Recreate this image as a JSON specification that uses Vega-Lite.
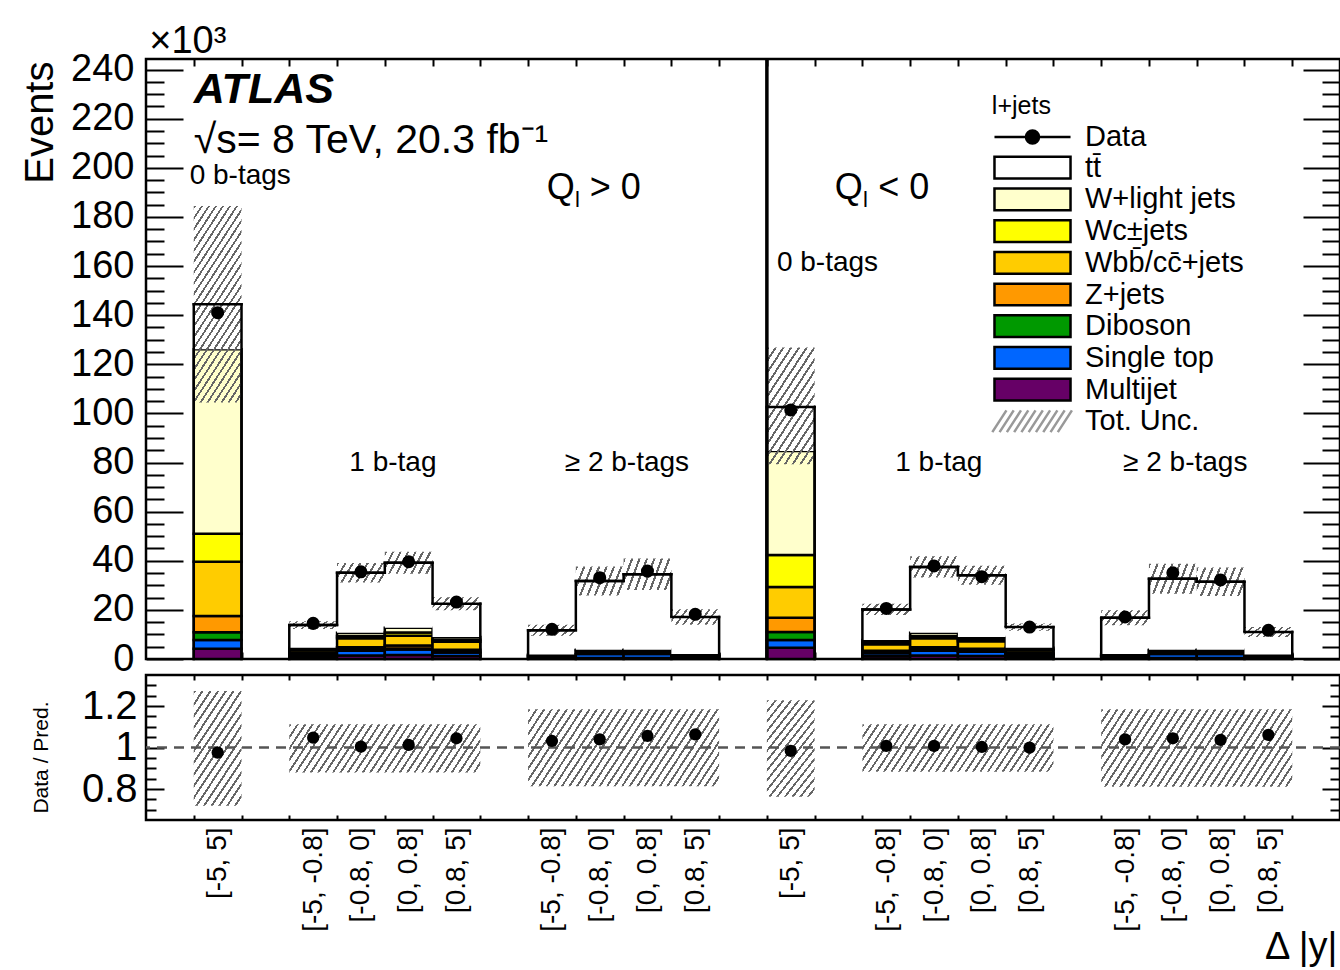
{
"$schema": "https://vega.github.io/schema/vega-lite/v6.json",
"background": "white",
"padding": {"left": 18, "top": 21, "right": 0, "bottom": 0},
"config": {
  "font": "Liberation Sans",
  "view": {"stroke": "black", "strokeWidth": 2.5},
  "axis": {"labelColor": "black", "titleColor": "black", "tickColor": "black", "domain": false, "grid": false, "labelFont": "Liberation Sans", "titleFont": "Liberation Sans", "titleFontWeight": "normal", "tickWidth": 2}
},
"datasets": {
  "bins": [
{"lo":1,"hi":2,"c":1.5,"grp":"Q+0b","nb":0,"pos":"only","dat":141.0,"r":0.976,"ul":104.4,"uh":184.4,"rl":0.72,"rh":1.273,"mj":4.2,"st":3.5,"vv":3.2,"z":6.6,"wbb":22.1,"wc":11.4,"wl":75.1,"tt":18.3},
{"lo":3,"hi":4,"c":3.5,"grp":"Q+1b","nb":1,"pos":"first","dat":14.5,"r":1.048,"ul":12.2,"uh":15.4,"rl":0.88,"rh":1.1125,"mj":0.8,"st":0.9,"vv":0.2,"z":0.4,"wbb":1.2,"wc":0.4,"wl":0.7,"tt":9.2},
{"lo":4,"hi":5,"c":4.5,"grp":"Q+1b","nb":1,"pos":"mid","dat":35.5,"r":1.005,"ul":31.1,"uh":39.1,"rl":0.88,"rh":1.1125,"mj":1.4,"st":2.0,"vv":0.4,"z":1.0,"wbb":3.6,"wc":1.0,"wl":1.3,"tt":24.4},
{"lo":5,"hi":6,"c":5.5,"grp":"Q+1b","nb":1,"pos":"mid","dat":39.6,"r":1.013,"ul":34.7,"uh":43.7,"rl":0.88,"rh":1.1125,"mj":1.6,"st":2.3,"vv":0.4,"z":1.2,"wbb":4.0,"wc":1.3,"wl":1.9,"tt":26.5},
{"lo":6,"hi":7,"c":6.5,"grp":"Q+1b","nb":1,"pos":"last","dat":23.2,"r":1.045,"ul":19.9,"uh":25.1,"rl":0.88,"rh":1.1125,"mj":1.2,"st":1.4,"vv":0.3,"z":0.9,"wbb":3.2,"wc":0.8,"wl":1.2,"tt":13.5},
{"lo":8,"hi":9,"c":8.5,"grp":"Q+2b","nb":2,"pos":"first","dat":12.1,"r":1.032,"ul":9.5,"uh":13.9,"rl":0.814,"rh":1.185,"mj":0.2,"st":0.7,"vv":0.05,"z":0.1,"wbb":0.5,"wc":0.1,"wl":0.15,"tt":9.9},
{"lo":9,"hi":10,"c":9.5,"grp":"Q+2b","nb":2,"pos":"mid","dat":33.1,"r":1.04,"ul":25.9,"uh":37.7,"rl":0.814,"rh":1.185,"mj":0.4,"st":1.6,"vv":0.1,"z":0.3,"wbb":1.0,"wc":0.2,"wl":0.2,"tt":28.0},
{"lo":10,"hi":11,"c":10.5,"grp":"Q+2b","nb":2,"pos":"mid","dat":35.8,"r":1.056,"ul":28.1,"uh":40.9,"rl":0.814,"rh":1.185,"mj":0.4,"st":1.6,"vv":0.1,"z":0.3,"wbb":1.0,"wc":0.2,"wl":0.2,"tt":30.7},
{"lo":11,"hi":12,"c":11.5,"grp":"Q+2b","nb":2,"pos":"last","dat":18.2,"r":1.064,"ul":13.9,"uh":20.3,"rl":0.814,"rh":1.185,"mj":0.2,"st":0.8,"vv":0.1,"z":0.1,"wbb":0.5,"wc":0.1,"wl":0.2,"tt":15.1},
{"lo":13,"hi":14,"c":13.5,"grp":"Q-0b","nb":0,"pos":"only","dat":101.4,"r":0.984,"ul":79.3,"uh":126.8,"rl":0.763,"rh":1.228,"mj":4.6,"st":3.1,"vv":3.3,"z":5.8,"wbb":12.5,"wc":13.0,"wl":42.4,"tt":17.9},
{"lo":15,"hi":16,"c":15.5,"grp":"Q-1b","nb":1,"pos":"first","dat":20.6,"r":1.008,"ul":17.9,"uh":22.5,"rl":0.883,"rh":1.1125,"mj":1.1,"st":1.2,"vv":0.3,"z":0.8,"wbb":2.6,"wc":0.7,"wl":1.0,"tt":12.5},
{"lo":16,"hi":17,"c":16.5,"grp":"Q-1b","nb":1,"pos":"mid","dat":37.9,"r":1.008,"ul":33.2,"uh":41.8,"rl":0.883,"rh":1.1125,"mj":1.4,"st":2.0,"vv":0.4,"z":1.0,"wbb":3.6,"wc":1.0,"wl":1.3,"tt":26.8},
{"lo":17,"hi":18,"c":17.5,"grp":"Q-1b","nb":1,"pos":"mid","dat":33.5,"r":1.003,"ul":30.2,"uh":38.0,"rl":0.883,"rh":1.1125,"mj":1.2,"st":1.8,"vv":0.3,"z":0.9,"wbb":3.0,"wc":0.8,"wl":1.0,"tt":25.1},
{"lo":18,"hi":19,"c":18.5,"grp":"Q-1b","nb":1,"pos":"last","dat":13.0,"r":1.0,"ul":11.5,"uh":14.5,"rl":0.883,"rh":1.1125,"mj":0.8,"st":0.9,"vv":0.2,"z":0.4,"wbb":1.2,"wc":0.4,"wl":0.7,"tt":8.4},
{"lo":20,"hi":21,"c":20.5,"grp":"Q-2b","nb":2,"pos":"first","dat":17.1,"r":1.04,"ul":13.7,"uh":19.9,"rl":0.811,"rh":1.185,"mj":0.2,"st":0.8,"vv":0.1,"z":0.1,"wbb":0.5,"wc":0.1,"wl":0.2,"tt":14.8},
{"lo":21,"hi":22,"c":21.5,"grp":"Q-2b","nb":2,"pos":"mid","dat":35.1,"r":1.045,"ul":26.6,"uh":38.8,"rl":0.811,"rh":1.185,"mj":0.4,"st":1.6,"vv":0.1,"z":0.3,"wbb":1.0,"wc":0.2,"wl":0.2,"tt":28.9},
{"lo":22,"hi":23,"c":22.5,"grp":"Q-2b","nb":2,"pos":"mid","dat":32.2,"r":1.037,"ul":25.7,"uh":37.3,"rl":0.811,"rh":1.185,"mj":0.4,"st":1.6,"vv":0.1,"z":0.3,"wbb":1.0,"wc":0.2,"wl":0.2,"tt":27.7},
{"lo":23,"hi":24,"c":23.5,"grp":"Q-2b","nb":2,"pos":"last","dat":11.7,"r":1.061,"ul":9.0,"uh":13.0,"rl":0.811,"rh":1.185,"mj":0.2,"st":0.7,"vv":0.05,"z":0.1,"wbb":0.5,"wc":0.1,"wl":0.15,"tt":9.2}
  ],
  "procs": [
{"key":"mj","name":"Multijet"},{"key":"st","name":"Single top"},{"key":"vv","name":"Diboson"},{"key":"z","name":"Z+jets"},
{"key":"wbb","name":"Wbb\u0304/cc\u0304+jets"},{"key":"wc","name":"Wc\u00b1jets"},{"key":"wl","name":"W+light jets"},{"key":"tt","name":"tt\u0304"}
  ]
},
"resolve": {"scale": {"x": "independent", "y": "independent"}},
"spacing": 16,
"bounds": "flush",
"vconcat": [
{
  "width": 1194, "height": 600,
  "data": {"name": "bins"},
  "resolve": {"axis": {"x": "independent", "y": "independent"}},
  "layer": [
    {
      "transform": [
        {"fold": ["mj","st","vv","z","wbb","wc","wl","tt"], "as": ["key","ev"]},
        {"lookup": "key", "from": {"data": {"name": "procs"}, "key": "key", "fields": ["name"]}},
        {"window": [{"op": "row_number", "as": "k"}], "groupby": ["lo"]},
        {"stack": "ev", "groupby": ["lo"], "sort": [{"field": "k", "order": "ascending"}], "as": ["y0","y1"]}
      ],
      "mark": {"type": "rect", "stroke": "black"},
      "encoding": {
        "x": {"field": "lo", "type": "quantitative", "scale": {"domain": [0, 25], "nice": false, "zero": false},
              "axis": {"orient": "bottom", "values": [1,2,3,4,5,6,7,8,9,10,11,12,13,14,15,16,17,18,19,20,21,22,23,24], "labels": false, "tickSize": 7, "offset": -7, "title": null}},
        "x2": {"field": "hi"},
        "y": {"field": "y0", "type": "quantitative", "scale": {"domain": [0, 244.3], "nice": false, "zero": false},
              "axis": {"orient": "left", "values": [0,20,40,60,80,100,120,140,160,180,200,220,240], "ticks": false, "labelFontSize": 38, "labelPadding": 12, "labelFlush": false, "labelOverlap": false,
                       "title": "Events", "titleFontSize": 40, "titleAngle": -90, "titleAlign": "right", "titleBaseline": "alphabetic", "titleX": -94, "titleY": 2}},
        "y2": {"field": "y1"},
        "fill": {"field": "name", "type": "nominal",
          "scale": {"domain": ["Data", "tt\u0304", "W+light jets", "Wc\u00b1jets", "Wbb\u0304/cc\u0304+jets", "Z+jets", "Diboson", "Single top", "Multijet", "Tot. Unc."],
                    "range": ["black", "white", "#ffffcc", "#ffff00", "#ffcc00", "#ff9900", "#009900", "#0066ff", "#660066", "#ffffff"]},
          "legend": {
            "title": null, "orient": "none", "legendX": 872, "legendY": 63.5, "padding": 0,
            "labelFont": "Liberation Sans", "labelFontSize": 29, "labelColor": "black", "labelOffset": 38, "labelLimit": 400,
            "symbolType": "M-3.5,-1H3.5V1H-3.5Z", "symbolSize": 472, "symbolStrokeColor": "black", "symbolStrokeWidth": 2.5, "symbolOpacity": 1,
            "rowPadding": -1.3,
            "encode": {"symbols": {"update": {
              "shape": [{"test": "datum.value === 'Data'", "value": "M-3.5,0H3.5M0.6,0A0.6,0.6,0,1,1,-0.6,0A0.6,0.6,0,1,1,0.6,0Z"},
                        {"test": "datum.value === 'Tot. Unc.'", "value": "M-3.7,1L-2.4,-1M-3.03,1L-1.73,-1M-2.36,1L-1.06,-1M-1.69,1L-0.39,-1M-1.02,1L0.28,-1M-0.35,1L0.95,-1M0.32,1L1.62,-1M0.99,1L2.29,-1M1.66,1L2.96,-1M2.33,1L3.63,-1"},
                        {"value": "M-3.5,-1H3.5V1H-3.5Z"}],
              "stroke": [{"test": "datum.value === 'Tot. Unc.'", "value": "#999"}, {"value": "black"}]
            }}}
          }},
        "strokeWidth": {"condition": {"test": "datum.key === 'tt'", "value": 0}, "value": 2.5}
      }
    },
    {
      "transform": [{"filter": "datum.lo === 1"}],
      "mark": {"type": "rect", "color": {"gradient": "linear", "x1": 0, "y1": 0, "x2": 0.4508, "y2": 1.2054, "stops": [
{"offset":0,"color":"#666"},{"offset":0.012,"color":"#666"},{"offset":0.012,"color":"#0000"},{"offset":0.04,"color":"#0000"},
{"offset":0.04,"color":"#666"},{"offset":0.052,"color":"#666"},{"offset":0.052,"color":"#0000"},{"offset":0.08,"color":"#0000"},
{"offset":0.08,"color":"#666"},{"offset":0.092,"color":"#666"},{"offset":0.092,"color":"#0000"},{"offset":0.12,"color":"#0000"},
{"offset":0.12,"color":"#666"},{"offset":0.132,"color":"#666"},{"offset":0.132,"color":"#0000"},{"offset":0.16,"color":"#0000"},
{"offset":0.16,"color":"#666"},{"offset":0.172,"color":"#666"},{"offset":0.172,"color":"#0000"},{"offset":0.2,"color":"#0000"},
{"offset":0.2,"color":"#666"},{"offset":0.212,"color":"#666"},{"offset":0.212,"color":"#0000"},{"offset":0.24,"color":"#0000"},
{"offset":0.24,"color":"#666"},{"offset":0.252,"color":"#666"},{"offset":0.252,"color":"#0000"},{"offset":0.28,"color":"#0000"},
{"offset":0.28,"color":"#666"},{"offset":0.292,"color":"#666"},{"offset":0.292,"color":"#0000"},{"offset":0.32,"color":"#0000"},
{"offset":0.32,"color":"#666"},{"offset":0.332,"color":"#666"},{"offset":0.332,"color":"#0000"},{"offset":0.36,"color":"#0000"},
{"offset":0.36,"color":"#666"},{"offset":0.372,"color":"#666"},{"offset":0.372,"color":"#0000"},{"offset":0.4,"color":"#0000"},
{"offset":0.4,"color":"#666"},{"offset":0.412,"color":"#666"},{"offset":0.412,"color":"#0000"},{"offset":0.44,"color":"#0000"},
{"offset":0.44,"color":"#666"},{"offset":0.452,"color":"#666"},{"offset":0.452,"color":"#0000"},{"offset":0.48,"color":"#0000"},
{"offset":0.48,"color":"#666"},{"offset":0.492,"color":"#666"},{"offset":0.492,"color":"#0000"},{"offset":0.52,"color":"#0000"},
{"offset":0.52,"color":"#666"},{"offset":0.532,"color":"#666"},{"offset":0.532,"color":"#0000"},{"offset":0.56,"color":"#0000"},
{"offset":0.56,"color":"#666"},{"offset":0.572,"color":"#666"},{"offset":0.572,"color":"#0000"},{"offset":0.6,"color":"#0000"},
{"offset":0.6,"color":"#666"},{"offset":0.612,"color":"#666"},{"offset":0.612,"color":"#0000"},{"offset":0.64,"color":"#0000"},
{"offset":0.64,"color":"#666"},{"offset":0.652,"color":"#666"},{"offset":0.652,"color":"#0000"},{"offset":0.68,"color":"#0000"},
{"offset":0.68,"color":"#666"},{"offset":0.692,"color":"#666"},{"offset":0.692,"color":"#0000"},{"offset":0.72,"color":"#0000"},
{"offset":0.72,"color":"#666"},{"offset":0.732,"color":"#666"},{"offset":0.732,"color":"#0000"},{"offset":0.76,"color":"#0000"},
{"offset":0.76,"color":"#666"},{"offset":0.772,"color":"#666"},{"offset":0.772,"color":"#0000"},{"offset":0.8,"color":"#0000"},
{"offset":0.8,"color":"#666"},{"offset":0.812,"color":"#666"},{"offset":0.812,"color":"#0000"},{"offset":0.84,"color":"#0000"},
{"offset":0.84,"color":"#666"},{"offset":0.852,"color":"#666"},{"offset":0.852,"color":"#0000"},{"offset":0.88,"color":"#0000"},
{"offset":0.88,"color":"#666"},{"offset":0.892,"color":"#666"},{"offset":0.892,"color":"#0000"},{"offset":0.92,"color":"#0000"},
{"offset":0.92,"color":"#666"},{"offset":0.932,"color":"#666"},{"offset":0.932,"color":"#0000"},{"offset":0.96,"color":"#0000"},
{"offset":0.96,"color":"#666"},{"offset":0.972,"color":"#666"},{"offset":0.972,"color":"#0000"},{"offset":1,"color":"#0000"}]}},
      "encoding": {"x": {"field": "lo", "type": "quantitative", "axis": null}, "x2": {"field": "hi"}, "y": {"field": "ul", "type": "quantitative", "axis": null}, "y2": {"field": "uh"}}
    },
    {
      "transform": [{"filter": "datum.lo === 13"}],
      "mark": {"type": "rect", "color": {"gradient": "linear", "x1": 0, "y1": 0, "x2": 0.7349, "y2": 1.167, "stops": [
{"offset":0,"color":"#666"},{"offset":0.01875,"color":"#666"},{"offset":0.01875,"color":"#0000"},{"offset":0.0625,"color":"#0000"},
{"offset":0.0625,"color":"#666"},{"offset":0.08125,"color":"#666"},{"offset":0.08125,"color":"#0000"},{"offset":0.125,"color":"#0000"},
{"offset":0.125,"color":"#666"},{"offset":0.14375,"color":"#666"},{"offset":0.14375,"color":"#0000"},{"offset":0.1875,"color":"#0000"},
{"offset":0.1875,"color":"#666"},{"offset":0.20625,"color":"#666"},{"offset":0.20625,"color":"#0000"},{"offset":0.25,"color":"#0000"},
{"offset":0.25,"color":"#666"},{"offset":0.26875,"color":"#666"},{"offset":0.26875,"color":"#0000"},{"offset":0.3125,"color":"#0000"},
{"offset":0.3125,"color":"#666"},{"offset":0.33125,"color":"#666"},{"offset":0.33125,"color":"#0000"},{"offset":0.375,"color":"#0000"},
{"offset":0.375,"color":"#666"},{"offset":0.39375,"color":"#666"},{"offset":0.39375,"color":"#0000"},{"offset":0.4375,"color":"#0000"},
{"offset":0.4375,"color":"#666"},{"offset":0.45625,"color":"#666"},{"offset":0.45625,"color":"#0000"},{"offset":0.5,"color":"#0000"},
{"offset":0.5,"color":"#666"},{"offset":0.51875,"color":"#666"},{"offset":0.51875,"color":"#0000"},{"offset":0.5625,"color":"#0000"},
{"offset":0.5625,"color":"#666"},{"offset":0.58125,"color":"#666"},{"offset":0.58125,"color":"#0000"},{"offset":0.625,"color":"#0000"},
{"offset":0.625,"color":"#666"},{"offset":0.64375,"color":"#666"},{"offset":0.64375,"color":"#0000"},{"offset":0.6875,"color":"#0000"},
{"offset":0.6875,"color":"#666"},{"offset":0.70625,"color":"#666"},{"offset":0.70625,"color":"#0000"},{"offset":0.75,"color":"#0000"},
{"offset":0.75,"color":"#666"},{"offset":0.76875,"color":"#666"},{"offset":0.76875,"color":"#0000"},{"offset":0.8125,"color":"#0000"},
{"offset":0.8125,"color":"#666"},{"offset":0.83125,"color":"#666"},{"offset":0.83125,"color":"#0000"},{"offset":0.875,"color":"#0000"},
{"offset":0.875,"color":"#666"},{"offset":0.89375,"color":"#666"},{"offset":0.89375,"color":"#0000"},{"offset":0.9375,"color":"#0000"},
{"offset":0.9375,"color":"#666"},{"offset":0.95625,"color":"#666"},{"offset":0.95625,"color":"#0000"},{"offset":1,"color":"#0000"}]}},
      "encoding": {"x": {"field": "lo", "type": "quantitative", "axis": null}, "x2": {"field": "hi"}, "y": {"field": "ul", "type": "quantitative", "axis": null}, "y2": {"field": "uh"}}
    },
    {
      "transform": [{"filter": "datum.nb > 0"}],
      "mark": {"type": "rect", "color": {"gradient": "linear", "x1": 0, "y1": 0, "x2": 1.1747, "y2": 0.2877, "stops": [
{"offset":0,"color":"#666"},{"offset":0.0375,"color":"#666"},{"offset":0.0375,"color":"#0000"},{"offset":0.125,"color":"#0000"},
{"offset":0.125,"color":"#666"},{"offset":0.1625,"color":"#666"},{"offset":0.1625,"color":"#0000"},{"offset":0.25,"color":"#0000"},
{"offset":0.25,"color":"#666"},{"offset":0.2875,"color":"#666"},{"offset":0.2875,"color":"#0000"},{"offset":0.375,"color":"#0000"},
{"offset":0.375,"color":"#666"},{"offset":0.4125,"color":"#666"},{"offset":0.4125,"color":"#0000"},{"offset":0.5,"color":"#0000"},
{"offset":0.5,"color":"#666"},{"offset":0.5375,"color":"#666"},{"offset":0.5375,"color":"#0000"},{"offset":0.625,"color":"#0000"},
{"offset":0.625,"color":"#666"},{"offset":0.6625,"color":"#666"},{"offset":0.6625,"color":"#0000"},{"offset":0.75,"color":"#0000"},
{"offset":0.75,"color":"#666"},{"offset":0.7875,"color":"#666"},{"offset":0.7875,"color":"#0000"},{"offset":0.875,"color":"#0000"},
{"offset":0.875,"color":"#666"},{"offset":0.9125,"color":"#666"},{"offset":0.9125,"color":"#0000"},{"offset":1,"color":"#0000"}]}},
      "encoding": {"x": {"field": "lo", "type": "quantitative", "axis": null}, "x2": {"field": "hi"}, "y": {"field": "ul", "type": "quantitative", "axis": null}, "y2": {"field": "uh"}}
    },
    {
      "transform": [
        {"fold": ["mj","st","vv","z","wbb","wc","wl","tt"], "as": ["key","ev"]},
        {"aggregate": [{"op": "sum", "field": "ev", "as": "tot"}], "groupby": ["lo","hi","grp","pos"]}
      ],
      "mark": {"type": "rule", "stroke": "black", "strokeWidth": 2.5, "strokeCap": "square"},
      "encoding": {
        "x": {"field": "lo", "type": "quantitative",
              "axis": {"orient": "top", "values": [1,2,3,4,5,6,7,8,9,10,11,12,13,14,15,16,17,18,19,20,21,22,23,24], "labels": false, "tickSize": 7, "offset": -7, "title": null}},
        "x2": {"field": "hi"},
        "y": {"field": "tot", "type": "quantitative",
              "axis": {"orient": "left", "values": [0,20,40,60,80,100,120,140,160,180,200,220,240], "labels": false, "tickSize": 37, "offset": -37,
                       "title": "\u00d710\u00b3", "titleFontSize": 38, "titleAngle": 0, "titleAlign": "left", "titleBaseline": "alphabetic", "titleX": -34.3, "titleY": -6.6}}
      }
    },
    {
      "transform": [
        {"fold": ["mj","st","vv","z","wbb","wc","wl","tt"], "as": ["key","ev"]},
        {"aggregate": [{"op": "sum", "field": "ev", "as": "tot"}], "groupby": ["lo","hi","grp","pos"]}
      ],
      "mark": {"type": "line", "interpolate": "step-after", "stroke": "black", "strokeWidth": 2.5},
      "encoding": {
        "x": {"field": "lo", "type": "quantitative", "axis": null},
        "y": {"field": "tot", "type": "quantitative",
              "axis": {"orient": "left", "values": [5,10,15,25,30,35,45,50,55,65,70,75,85,90,95,105,110,115,125,130,135,145,150,155,165,170,175,185,190,195,205,210,215,225,230,235], "labels": false, "tickSize": 18, "offset": -18, "title": null}},
        "detail": {"field": "grp"}
      }
    },
    {
      "transform": [
        {"fold": ["mj","st","vv","z","wbb","wc","wl","tt"], "as": ["key","ev"]},
        {"aggregate": [{"op": "sum", "field": "ev", "as": "tot"}], "groupby": ["lo","hi","grp","pos"]},
        {"filter": "datum.pos === 'first' || datum.pos === 'only'"}
      ],
      "mark": {"type": "rule", "stroke": "black", "strokeWidth": 2.5, "strokeCap": "square"},
      "encoding": {
        "x": {"field": "lo", "type": "quantitative", "axis": null},
        "y": {"field": "tot", "type": "quantitative",
              "axis": {"orient": "right", "values": [0,20,40,60,80,100,120,140,160,180,200,220,240], "labels": false, "tickSize": 37, "offset": -37, "title": null}},
        "y2": {"datum": 0}
      }
    },
    {
      "transform": [
        {"fold": ["mj","st","vv","z","wbb","wc","wl","tt"], "as": ["key","ev"]},
        {"aggregate": [{"op": "sum", "field": "ev", "as": "tot"}], "groupby": ["lo","hi","grp","pos"]},
        {"filter": "datum.pos === 'last' || datum.pos === 'only'"}
      ],
      "mark": {"type": "rule", "stroke": "black", "strokeWidth": 2.5, "strokeCap": "square"},
      "encoding": {
        "x": {"field": "hi", "type": "quantitative", "axis": null},
        "y": {"field": "tot", "type": "quantitative",
              "axis": {"orient": "right", "values": [5,10,15,25,30,35,45,50,55,65,70,75,85,90,95,105,110,115,125,130,135,145,150,155,165,170,175,185,190,195,205,210,215,225,230,235], "labels": false, "tickSize": 18, "offset": -18, "title": null}},
        "y2": {"datum": 0}
      }
    },
    {
      "mark": {"type": "point", "filled": true, "fill": "black", "size": 170, "opacity": 1, "strokeWidth": 0},
      "encoding": {"x": {"field": "c", "type": "quantitative", "axis": null}, "y": {"field": "dat", "type": "quantitative", "axis": null}}
    },
    {
      "data": {"values": [{}]},
      "mark": {"type": "rule", "stroke": "black", "strokeWidth": 3.5},
      "encoding": {"x": {"datum": 13, "type": "quantitative", "axis": null}}
    },
    {"data": {"values": [{}]}, "mark": {"type": "text", "text": "ATLAS", "align": "left", "baseline": "alphabetic", "fontSize": 43, "fontWeight": "bold", "fontStyle": "italic", "color": "black"},
     "encoding": {"x": {"datum": 1.0, "type": "quantitative", "axis": null}, "y": {"datum": 226.4, "type": "quantitative", "axis": null}}},
    {"data": {"values": [{}]}, "mark": {"type": "text", "text": "\u221as= 8 TeV, 20.3 fb\u207b\u00b9", "align": "left", "baseline": "alphabetic", "fontSize": 41, "color": "black"},
     "encoding": {"x": {"datum": 1.0, "type": "quantitative", "axis": null}, "y": {"datum": 206.2, "type": "quantitative", "axis": null}}},
    {"data": {"values": [{}]}, "mark": {"type": "text", "text": "0 b-tags", "align": "left", "baseline": "alphabetic", "fontSize": 28, "color": "black"},
     "encoding": {"x": {"datum": 0.915, "type": "quantitative", "axis": null}, "y": {"datum": 193.5, "type": "quantitative", "axis": null}}},
    {"data": {"values": [{}]}, "mark": {"type": "text", "text": "Q", "align": "left", "baseline": "alphabetic", "fontSize": 36, "color": "black"},
     "encoding": {"x": {"datum": 8.39, "type": "quantitative", "axis": null}, "y": {"datum": 187.3, "type": "quantitative", "axis": null}}},
    {"data": {"values": [{}]}, "mark": {"type": "text", "text": "l", "align": "left", "baseline": "alphabetic", "fontSize": 22, "color": "black"},
     "encoding": {"x": {"datum": 8.98, "type": "quantitative", "axis": null}, "y": {"datum": 184.0, "type": "quantitative", "axis": null}}},
    {"data": {"values": [{}]}, "mark": {"type": "text", "text": "> 0", "align": "left", "baseline": "alphabetic", "fontSize": 36, "color": "black"},
     "encoding": {"x": {"datum": 9.29, "type": "quantitative", "axis": null}, "y": {"datum": 187.3, "type": "quantitative", "axis": null}}},
    {"data": {"values": [{}]}, "mark": {"type": "text", "text": "Q", "align": "left", "baseline": "alphabetic", "fontSize": 36, "color": "black"},
     "encoding": {"x": {"datum": 14.42, "type": "quantitative", "axis": null}, "y": {"datum": 187.3, "type": "quantitative", "axis": null}}},
    {"data": {"values": [{}]}, "mark": {"type": "text", "text": "l", "align": "left", "baseline": "alphabetic", "fontSize": 22, "color": "black"},
     "encoding": {"x": {"datum": 15.01, "type": "quantitative", "axis": null}, "y": {"datum": 184.0, "type": "quantitative", "axis": null}}},
    {"data": {"values": [{}]}, "mark": {"type": "text", "text": "< 0", "align": "left", "baseline": "alphabetic", "fontSize": 36, "color": "black"},
     "encoding": {"x": {"datum": 15.33, "type": "quantitative", "axis": null}, "y": {"datum": 187.3, "type": "quantitative", "axis": null}}},
    {"data": {"values": [{}]}, "mark": {"type": "text", "text": "0 b-tags", "align": "left", "baseline": "alphabetic", "fontSize": 28, "color": "black"},
     "encoding": {"x": {"datum": 13.21, "type": "quantitative", "axis": null}, "y": {"datum": 158.0, "type": "quantitative", "axis": null}}},
    {"data": {"values": [{}]}, "mark": {"type": "text", "text": "1 b-tag", "align": "center", "baseline": "alphabetic", "fontSize": 28, "color": "black"},
     "encoding": {"x": {"datum": 5.17, "type": "quantitative", "axis": null}, "y": {"datum": 76.5, "type": "quantitative", "axis": null}}},
    {"data": {"values": [{}]}, "mark": {"type": "text", "text": "\u2265 2 b-tags", "align": "center", "baseline": "alphabetic", "fontSize": 28, "color": "black"},
     "encoding": {"x": {"datum": 10.07, "type": "quantitative", "axis": null}, "y": {"datum": 76.5, "type": "quantitative", "axis": null}}},
    {"data": {"values": [{}]}, "mark": {"type": "text", "text": "1 b-tag", "align": "center", "baseline": "alphabetic", "fontSize": 28, "color": "black"},
     "encoding": {"x": {"datum": 16.6, "type": "quantitative", "axis": null}, "y": {"datum": 76.5, "type": "quantitative", "axis": null}}},
    {"data": {"values": [{}]}, "mark": {"type": "text", "text": "\u2265 2 b-tags", "align": "center", "baseline": "alphabetic", "fontSize": 28, "color": "black"},
     "encoding": {"x": {"datum": 21.76, "type": "quantitative", "axis": null}, "y": {"datum": 76.5, "type": "quantitative", "axis": null}}},
    {"data": {"values": [{}]}, "mark": {"type": "text", "text": "l+jets", "align": "left", "baseline": "alphabetic", "fontSize": 25, "color": "black"},
     "encoding": {"x": {"datum": 17.71, "type": "quantitative", "axis": null}, "y": {"datum": 221.9, "type": "quantitative", "axis": null}}}
  ]
},
{
  "width": 1194, "height": 145,
  "data": {"name": "bins"},
  "resolve": {"axis": {"x": "independent", "y": "independent"}},
  "layer": [
    {
      "transform": [{"filter": "datum.nb === 0"}, {"aggregate": [{"op": "min", "field": "lo", "as": "x0"}, {"op": "max", "field": "hi", "as": "x1"}], "groupby": ["grp","rl","rh"]}],
      "mark": {"type": "rect", "color": {"gradient": "linear", "x1": 0, "y1": 0, "x2": 0.7349, "y2": 1.167, "stops": [
{"offset":0,"color":"#666"},{"offset":0.01875,"color":"#666"},{"offset":0.01875,"color":"#0000"},{"offset":0.0625,"color":"#0000"},
{"offset":0.0625,"color":"#666"},{"offset":0.08125,"color":"#666"},{"offset":0.08125,"color":"#0000"},{"offset":0.125,"color":"#0000"},
{"offset":0.125,"color":"#666"},{"offset":0.14375,"color":"#666"},{"offset":0.14375,"color":"#0000"},{"offset":0.1875,"color":"#0000"},
{"offset":0.1875,"color":"#666"},{"offset":0.20625,"color":"#666"},{"offset":0.20625,"color":"#0000"},{"offset":0.25,"color":"#0000"},
{"offset":0.25,"color":"#666"},{"offset":0.26875,"color":"#666"},{"offset":0.26875,"color":"#0000"},{"offset":0.3125,"color":"#0000"},
{"offset":0.3125,"color":"#666"},{"offset":0.33125,"color":"#666"},{"offset":0.33125,"color":"#0000"},{"offset":0.375,"color":"#0000"},
{"offset":0.375,"color":"#666"},{"offset":0.39375,"color":"#666"},{"offset":0.39375,"color":"#0000"},{"offset":0.4375,"color":"#0000"},
{"offset":0.4375,"color":"#666"},{"offset":0.45625,"color":"#666"},{"offset":0.45625,"color":"#0000"},{"offset":0.5,"color":"#0000"},
{"offset":0.5,"color":"#666"},{"offset":0.51875,"color":"#666"},{"offset":0.51875,"color":"#0000"},{"offset":0.5625,"color":"#0000"},
{"offset":0.5625,"color":"#666"},{"offset":0.58125,"color":"#666"},{"offset":0.58125,"color":"#0000"},{"offset":0.625,"color":"#0000"},
{"offset":0.625,"color":"#666"},{"offset":0.64375,"color":"#666"},{"offset":0.64375,"color":"#0000"},{"offset":0.6875,"color":"#0000"},
{"offset":0.6875,"color":"#666"},{"offset":0.70625,"color":"#666"},{"offset":0.70625,"color":"#0000"},{"offset":0.75,"color":"#0000"},
{"offset":0.75,"color":"#666"},{"offset":0.76875,"color":"#666"},{"offset":0.76875,"color":"#0000"},{"offset":0.8125,"color":"#0000"},
{"offset":0.8125,"color":"#666"},{"offset":0.83125,"color":"#666"},{"offset":0.83125,"color":"#0000"},{"offset":0.875,"color":"#0000"},
{"offset":0.875,"color":"#666"},{"offset":0.89375,"color":"#666"},{"offset":0.89375,"color":"#0000"},{"offset":0.9375,"color":"#0000"},
{"offset":0.9375,"color":"#666"},{"offset":0.95625,"color":"#666"},{"offset":0.95625,"color":"#0000"},{"offset":1,"color":"#0000"}]}},
      "encoding": {
        "x": {"field": "x0", "type": "quantitative", "scale": {"domain": [0, 25], "nice": false, "zero": false},
              "axis": {"orient": "bottom", "values": [1.5,3.5,4.5,5.5,6.5,8.5,9.5,10.5,11.5,13.5,15.5,16.5,17.5,18.5,20.5,21.5,22.5,23.5],
                       "labelExpr": "['', '[-5, 5]', '', '[-5, -0.8]', '[-0.8, 0]', '[0, 0.8]', '[0.8, 5]', '', '[-5, -0.8]', '[-0.8, 0]', '[0, 0.8]', '[0.8, 5]', '', '[-5, 5]', '', '[-5, -0.8]', '[-0.8, 0]', '[0, 0.8]', '[0.8, 5]', '', '[-5, -0.8]', '[-0.8, 0]', '[0, 0.8]', '[0.8, 5]', ''][floor(datum.value)]",
                       "labelAngle": -90, "labelFontSize": 28, "labelPadding": 7, "ticks": false, "labelOverlap": false, "labelFlush": false,
                       "title": "\u0394 |y|", "titleFontSize": 38, "titleX": 1191, "titleY": 138, "titleAlign": "right", "titleBaseline": "alphabetic"}},
        "x2": {"field": "x1"},
        "y": {"field": "rl", "type": "quantitative", "scale": {"domain": [0.651, 1.35], "nice": false, "zero": false},
              "axis": {"orient": "left", "values": [0.8, 1, 1.2], "format": "~g", "ticks": false, "labelFontSize": 40, "labelPadding": 9, "labelFlush": false, "labelOverlap": false,
                       "title": "Data / Pred.", "titleFontSize": 21, "titleAngle": -90, "titleAlign": "right", "titleBaseline": "alphabetic", "titleX": -99, "titleY": 26}},
        "y2": {"field": "rh"}
      }
    },
    {
      "transform": [{"filter": "datum.nb === 1"}, {"aggregate": [{"op": "min", "field": "lo", "as": "x0"}, {"op": "max", "field": "hi", "as": "x1"}], "groupby": ["grp","rl","rh"]}],
      "mark": {"type": "rect", "color": {"gradient": "linear", "x1": 0, "y1": 0, "x2": 1.1339, "y2": 0.1868, "stops": [
{"offset":0,"color":"#666"},{"offset":0.01,"color":"#666"},{"offset":0.01,"color":"#0000"},{"offset":0.0333,"color":"#0000"},
{"offset":0.0333,"color":"#666"},{"offset":0.0433,"color":"#666"},{"offset":0.0433,"color":"#0000"},{"offset":0.0667,"color":"#0000"},
{"offset":0.0667,"color":"#666"},{"offset":0.0767,"color":"#666"},{"offset":0.0767,"color":"#0000"},{"offset":0.1,"color":"#0000"},
{"offset":0.1,"color":"#666"},{"offset":0.11,"color":"#666"},{"offset":0.11,"color":"#0000"},{"offset":0.1333,"color":"#0000"},
{"offset":0.1333,"color":"#666"},{"offset":0.1433,"color":"#666"},{"offset":0.1433,"color":"#0000"},{"offset":0.1667,"color":"#0000"},
{"offset":0.1667,"color":"#666"},{"offset":0.1767,"color":"#666"},{"offset":0.1767,"color":"#0000"},{"offset":0.2,"color":"#0000"},
{"offset":0.2,"color":"#666"},{"offset":0.21,"color":"#666"},{"offset":0.21,"color":"#0000"},{"offset":0.2333,"color":"#0000"},
{"offset":0.2333,"color":"#666"},{"offset":0.2433,"color":"#666"},{"offset":0.2433,"color":"#0000"},{"offset":0.2667,"color":"#0000"},
{"offset":0.2667,"color":"#666"},{"offset":0.2767,"color":"#666"},{"offset":0.2767,"color":"#0000"},{"offset":0.3,"color":"#0000"},
{"offset":0.3,"color":"#666"},{"offset":0.31,"color":"#666"},{"offset":0.31,"color":"#0000"},{"offset":0.3333,"color":"#0000"},
{"offset":0.3333,"color":"#666"},{"offset":0.3433,"color":"#666"},{"offset":0.3433,"color":"#0000"},{"offset":0.3667,"color":"#0000"},
{"offset":0.3667,"color":"#666"},{"offset":0.3767,"color":"#666"},{"offset":0.3767,"color":"#0000"},{"offset":0.4,"color":"#0000"},
{"offset":0.4,"color":"#666"},{"offset":0.41,"color":"#666"},{"offset":0.41,"color":"#0000"},{"offset":0.4333,"color":"#0000"},
{"offset":0.4333,"color":"#666"},{"offset":0.4433,"color":"#666"},{"offset":0.4433,"color":"#0000"},{"offset":0.4667,"color":"#0000"},
{"offset":0.4667,"color":"#666"},{"offset":0.4767,"color":"#666"},{"offset":0.4767,"color":"#0000"},{"offset":0.5,"color":"#0000"},
{"offset":0.5,"color":"#666"},{"offset":0.51,"color":"#666"},{"offset":0.51,"color":"#0000"},{"offset":0.5333,"color":"#0000"},
{"offset":0.5333,"color":"#666"},{"offset":0.5433,"color":"#666"},{"offset":0.5433,"color":"#0000"},{"offset":0.5667,"color":"#0000"},
{"offset":0.5667,"color":"#666"},{"offset":0.5767,"color":"#666"},{"offset":0.5767,"color":"#0000"},{"offset":0.6,"color":"#0000"},
{"offset":0.6,"color":"#666"},{"offset":0.61,"color":"#666"},{"offset":0.61,"color":"#0000"},{"offset":0.6333,"color":"#0000"},
{"offset":0.6333,"color":"#666"},{"offset":0.6433,"color":"#666"},{"offset":0.6433,"color":"#0000"},{"offset":0.6667,"color":"#0000"},
{"offset":0.6667,"color":"#666"},{"offset":0.6767,"color":"#666"},{"offset":0.6767,"color":"#0000"},{"offset":0.7,"color":"#0000"},
{"offset":0.7,"color":"#666"},{"offset":0.71,"color":"#666"},{"offset":0.71,"color":"#0000"},{"offset":0.7333,"color":"#0000"},
{"offset":0.7333,"color":"#666"},{"offset":0.7433,"color":"#666"},{"offset":0.7433,"color":"#0000"},{"offset":0.7667,"color":"#0000"},
{"offset":0.7667,"color":"#666"},{"offset":0.7767,"color":"#666"},{"offset":0.7767,"color":"#0000"},{"offset":0.8,"color":"#0000"},
{"offset":0.8,"color":"#666"},{"offset":0.81,"color":"#666"},{"offset":0.81,"color":"#0000"},{"offset":0.8333,"color":"#0000"},
{"offset":0.8333,"color":"#666"},{"offset":0.8433,"color":"#666"},{"offset":0.8433,"color":"#0000"},{"offset":0.8667,"color":"#0000"},
{"offset":0.8667,"color":"#666"},{"offset":0.8767,"color":"#666"},{"offset":0.8767,"color":"#0000"},{"offset":0.9,"color":"#0000"},
{"offset":0.9,"color":"#666"},{"offset":0.91,"color":"#666"},{"offset":0.91,"color":"#0000"},{"offset":0.9333,"color":"#0000"},
{"offset":0.9333,"color":"#666"},{"offset":0.9433,"color":"#666"},{"offset":0.9433,"color":"#0000"},{"offset":0.9667,"color":"#0000"},
{"offset":0.9667,"color":"#666"},{"offset":0.9767,"color":"#666"},{"offset":0.9767,"color":"#0000"},{"offset":1,"color":"#0000"}]}},
      "encoding": {
        "x": {"field": "x0", "type": "quantitative",
              "axis": {"orient": "bottom", "values": [1,2,3,4,5,6,7,8,9,10,11,12,13,14,15,16,17,18,19,20,21,22,23,24], "labels": false, "tickSize": 5, "offset": -5, "title": null}},
        "x2": {"field": "x1"},
        "y": {"field": "rl", "type": "quantitative",
              "axis": {"orient": "left", "values": [0.8, 1, 1.2], "labels": false, "tickSize": 18, "offset": -18, "title": null}},
        "y2": {"field": "rh"}
      }
    },
    {
      "transform": [{"filter": "datum.nb === 2"}, {"aggregate": [{"op": "min", "field": "lo", "as": "x0"}, {"op": "max", "field": "hi", "as": "x1"}], "groupby": ["grp","rl","rh"]}],
      "mark": {"type": "rect", "color": {"gradient": "linear", "x1": 0, "y1": 0, "x2": 1.1811, "y2": 0.3101, "stops": [
{"offset":0,"color":"#666"},{"offset":0.0094,"color":"#666"},{"offset":0.0094,"color":"#0000"},{"offset":0.0313,"color":"#0000"},
{"offset":0.0313,"color":"#666"},{"offset":0.0406,"color":"#666"},{"offset":0.0406,"color":"#0000"},{"offset":0.0625,"color":"#0000"},
{"offset":0.0625,"color":"#666"},{"offset":0.0719,"color":"#666"},{"offset":0.0719,"color":"#0000"},{"offset":0.0938,"color":"#0000"},
{"offset":0.0938,"color":"#666"},{"offset":0.1031,"color":"#666"},{"offset":0.1031,"color":"#0000"},{"offset":0.125,"color":"#0000"},
{"offset":0.125,"color":"#666"},{"offset":0.1344,"color":"#666"},{"offset":0.1344,"color":"#0000"},{"offset":0.1563,"color":"#0000"},
{"offset":0.1563,"color":"#666"},{"offset":0.1656,"color":"#666"},{"offset":0.1656,"color":"#0000"},{"offset":0.1875,"color":"#0000"},
{"offset":0.1875,"color":"#666"},{"offset":0.1969,"color":"#666"},{"offset":0.1969,"color":"#0000"},{"offset":0.2188,"color":"#0000"},
{"offset":0.2188,"color":"#666"},{"offset":0.2281,"color":"#666"},{"offset":0.2281,"color":"#0000"},{"offset":0.25,"color":"#0000"},
{"offset":0.25,"color":"#666"},{"offset":0.2594,"color":"#666"},{"offset":0.2594,"color":"#0000"},{"offset":0.2813,"color":"#0000"},
{"offset":0.2813,"color":"#666"},{"offset":0.2906,"color":"#666"},{"offset":0.2906,"color":"#0000"},{"offset":0.3125,"color":"#0000"},
{"offset":0.3125,"color":"#666"},{"offset":0.3219,"color":"#666"},{"offset":0.3219,"color":"#0000"},{"offset":0.3438,"color":"#0000"},
{"offset":0.3438,"color":"#666"},{"offset":0.3531,"color":"#666"},{"offset":0.3531,"color":"#0000"},{"offset":0.375,"color":"#0000"},
{"offset":0.375,"color":"#666"},{"offset":0.3844,"color":"#666"},{"offset":0.3844,"color":"#0000"},{"offset":0.4063,"color":"#0000"},
{"offset":0.4063,"color":"#666"},{"offset":0.4156,"color":"#666"},{"offset":0.4156,"color":"#0000"},{"offset":0.4375,"color":"#0000"},
{"offset":0.4375,"color":"#666"},{"offset":0.4469,"color":"#666"},{"offset":0.4469,"color":"#0000"},{"offset":0.4688,"color":"#0000"},
{"offset":0.4688,"color":"#666"},{"offset":0.4781,"color":"#666"},{"offset":0.4781,"color":"#0000"},{"offset":0.5,"color":"#0000"},
{"offset":0.5,"color":"#666"},{"offset":0.5094,"color":"#666"},{"offset":0.5094,"color":"#0000"},{"offset":0.5313,"color":"#0000"},
{"offset":0.5313,"color":"#666"},{"offset":0.5406,"color":"#666"},{"offset":0.5406,"color":"#0000"},{"offset":0.5625,"color":"#0000"},
{"offset":0.5625,"color":"#666"},{"offset":0.5719,"color":"#666"},{"offset":0.5719,"color":"#0000"},{"offset":0.5938,"color":"#0000"},
{"offset":0.5938,"color":"#666"},{"offset":0.6031,"color":"#666"},{"offset":0.6031,"color":"#0000"},{"offset":0.625,"color":"#0000"},
{"offset":0.625,"color":"#666"},{"offset":0.6344,"color":"#666"},{"offset":0.6344,"color":"#0000"},{"offset":0.6563,"color":"#0000"},
{"offset":0.6563,"color":"#666"},{"offset":0.6656,"color":"#666"},{"offset":0.6656,"color":"#0000"},{"offset":0.6875,"color":"#0000"},
{"offset":0.6875,"color":"#666"},{"offset":0.6969,"color":"#666"},{"offset":0.6969,"color":"#0000"},{"offset":0.7188,"color":"#0000"},
{"offset":0.7188,"color":"#666"},{"offset":0.7281,"color":"#666"},{"offset":0.7281,"color":"#0000"},{"offset":0.75,"color":"#0000"},
{"offset":0.75,"color":"#666"},{"offset":0.7594,"color":"#666"},{"offset":0.7594,"color":"#0000"},{"offset":0.7813,"color":"#0000"},
{"offset":0.7813,"color":"#666"},{"offset":0.7906,"color":"#666"},{"offset":0.7906,"color":"#0000"},{"offset":0.8125,"color":"#0000"},
{"offset":0.8125,"color":"#666"},{"offset":0.8219,"color":"#666"},{"offset":0.8219,"color":"#0000"},{"offset":0.8438,"color":"#0000"},
{"offset":0.8438,"color":"#666"},{"offset":0.8531,"color":"#666"},{"offset":0.8531,"color":"#0000"},{"offset":0.875,"color":"#0000"},
{"offset":0.875,"color":"#666"},{"offset":0.8844,"color":"#666"},{"offset":0.8844,"color":"#0000"},{"offset":0.9063,"color":"#0000"},
{"offset":0.9063,"color":"#666"},{"offset":0.9156,"color":"#666"},{"offset":0.9156,"color":"#0000"},{"offset":0.9375,"color":"#0000"},
{"offset":0.9375,"color":"#666"},{"offset":0.9469,"color":"#666"},{"offset":0.9469,"color":"#0000"},{"offset":0.9688,"color":"#0000"},
{"offset":0.9688,"color":"#666"},{"offset":0.9781,"color":"#666"},{"offset":0.9781,"color":"#0000"},{"offset":1,"color":"#0000"}]}},
      "encoding": {
        "x": {"field": "x0", "type": "quantitative",
              "axis": {"orient": "top", "values": [1,2,3,4,5,6,7,8,9,10,11,12,13,14,15,16,17,18,19,20,21,22,23,24], "labels": false, "tickSize": 5, "offset": -5, "title": null}},
        "x2": {"field": "x1"},
        "y": {"field": "rl", "type": "quantitative",
              "axis": {"orient": "left", "values": [0.7,0.75,0.85,0.9,0.95,1.05,1.1,1.15,1.25,1.3], "labels": false, "tickSize": 10, "offset": -10, "title": null}},
        "y2": {"field": "rh"}
      }
    },
    {
      "data": {"values": [{}]},
      "mark": {"type": "rule", "stroke": "#555", "strokeWidth": 2.5, "strokeDash": [10, 7]},
      "encoding": {"y": {"datum": 1, "type": "quantitative",
        "axis": {"orient": "right", "values": [0.8, 1, 1.2], "labels": false, "tickSize": 18, "offset": -18, "title": null}}}
    },
    {
      "mark": {"type": "point", "filled": true, "fill": "black", "size": 150, "opacity": 1, "strokeWidth": 0},
      "encoding": {
        "x": {"field": "c", "type": "quantitative", "axis": null},
        "y": {"field": "r", "type": "quantitative",
              "axis": {"orient": "right", "values": [0.7,0.75,0.85,0.9,0.95,1.05,1.1,1.15,1.25,1.3], "labels": false, "tickSize": 10, "offset": -10, "title": null}}
      }
    }
  ]
}
]
}
